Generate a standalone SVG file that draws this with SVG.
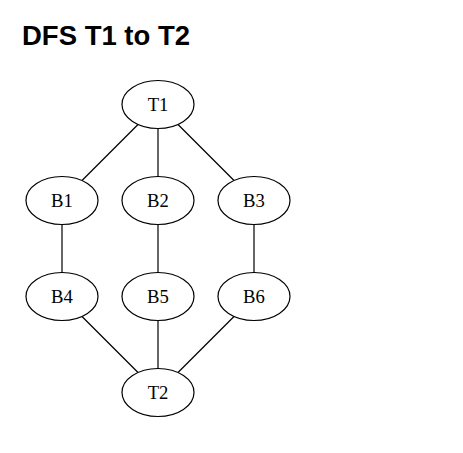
<svg xmlns="http://www.w3.org/2000/svg" width="463" height="453" viewBox="0 0 463 453">
<style>
.node ellipse{fill:#fff;stroke:#000;stroke-width:1.2}
.node text{font-family:"Liberation Serif","Times New Roman",serif;font-size:18.67px;text-anchor:middle;fill:#000}
#edges line{stroke:#000;stroke-width:1.2}
.title{font-family:"Liberation Sans",Arial,sans-serif;font-weight:bold;font-size:27.5px;fill:#000}
</style>
<rect width="463" height="453" fill="#fff"/>
<text class="title" x="22" y="45">DFS T1 to T2</text>
<g id="edges">
<line x1="138" y1="124.5" x2="82" y2="180.5"/>
<line x1="158" y1="128.5" x2="158" y2="176.5"/>
<line x1="178" y1="124.5" x2="234" y2="180.5"/>
<line x1="62" y1="224.5" x2="62" y2="272.5"/>
<line x1="158" y1="224.5" x2="158" y2="272.5"/>
<line x1="254" y1="224.5" x2="254" y2="272.5"/>
<line x1="82" y1="316.5" x2="138" y2="372.5"/>
<line x1="158" y1="320.5" x2="158" y2="368.5"/>
<line x1="234" y1="316.5" x2="178" y2="372.5"/>
</g>
<g id="T1" class="node"><ellipse cx="158" cy="104.5" rx="36" ry="24"/><text x="158" y="111">T1</text></g>
<g id="B1" class="node"><ellipse cx="62" cy="200.5" rx="36" ry="24"/><text x="62" y="207">B1</text></g>
<g id="B2" class="node"><ellipse cx="158" cy="200.5" rx="36" ry="24"/><text x="158" y="207">B2</text></g>
<g id="B3" class="node"><ellipse cx="254" cy="200.5" rx="36" ry="24"/><text x="254" y="207">B3</text></g>
<g id="B4" class="node"><ellipse cx="62" cy="296.5" rx="36" ry="24"/><text x="62" y="303">B4</text></g>
<g id="B5" class="node"><ellipse cx="158" cy="296.5" rx="36" ry="24"/><text x="158" y="303">B5</text></g>
<g id="B6" class="node"><ellipse cx="254" cy="296.5" rx="36" ry="24"/><text x="254" y="303">B6</text></g>
<g id="T2" class="node"><ellipse cx="158" cy="392.5" rx="36" ry="24"/><text x="158" y="399">T2</text></g>
</svg>
